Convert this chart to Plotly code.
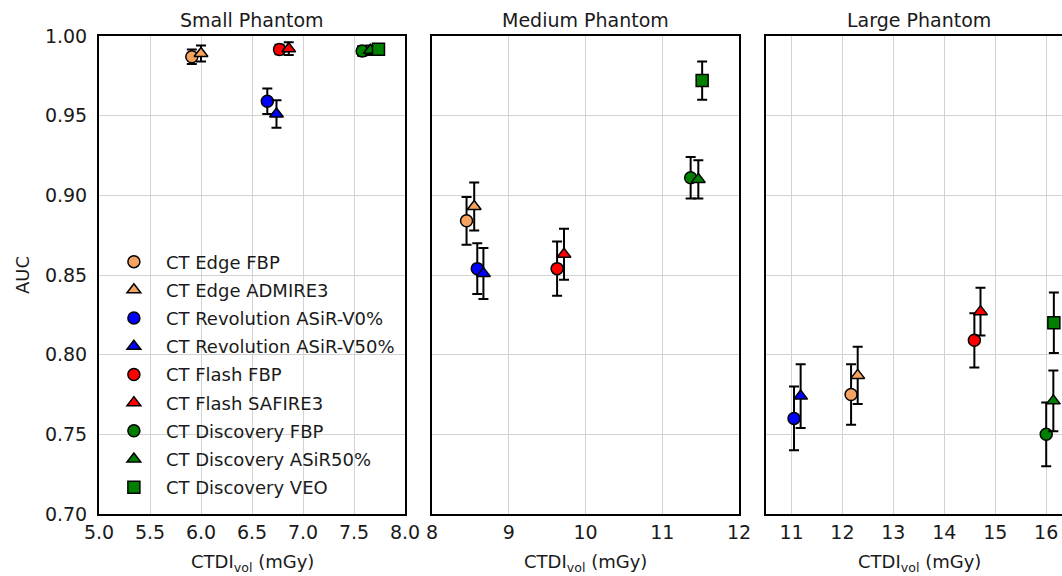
import plotly.graph_objects as go

series = ["CT Edge FBP", "CT Edge ADMIRE3", "CT Revolution ASiR-V0%", "CT Revolution ASiR-V50%",
          "CT Flash FBP", "CT Flash SAFIRE3", "CT Discovery FBP", "CT Discovery ASiR50%", "CT Discovery VEO"]
colors = ["#f4a460", "#f4a460", "#0000ff", "#0000ff", "#ff0000", "#ff0000", "#008000", "#008000", "#008000"]
symbols = ["circle", "triangle-up", "circle", "triangle-up", "circle", "triangle-up", "circle", "triangle-up", "square"]

small_x = [5.91, 6.00, 6.65, 6.74, 6.77, 6.86, 7.58, 7.66, 7.74]
small_auc = [0.987, 0.989, 0.959, 0.951, 0.9915, 0.992, 0.9906, 0.991, 0.9917]
small_err = [0.0045, 0.005, 0.008, 0.0086, 0.003, 0.004, 0.003, 0.003, 0.003]

medium_x = [8.45, 8.55, 8.59, 8.67, 9.63, 9.72, 11.37, 11.47, 11.52]
medium_auc = [0.884, 0.893, 0.854, 0.851, 0.854, 0.863, 0.911, 0.910, 0.972]
medium_err = [0.015, 0.015, 0.016, 0.016, 0.017, 0.016, 0.013, 0.012, 0.012]

large_x = [12.17, 12.30, 11.05, 11.18, 14.59, 14.71, 16.00, 16.14, 16.15]
large_auc = [0.775, 0.787, 0.760, 0.774, 0.809, 0.827, 0.750, 0.771, 0.820]
large_err = [0.019, 0.018, 0.020, 0.020, 0.017, 0.015, 0.020, 0.019, 0.019]

panel_titles = ["Small Phantom", "Medium Phantom", "Large Phantom"]
x_ranges = [[5.0, 8.0], [8.0, 12.0], [10.5, 16.31]]
x_ticks = [[5.0, 5.5, 6.0, 6.5, 7.0, 7.5, 8.0], [8, 9, 10, 11, 12], [11, 12, 13, 14, 15, 16]]
x_ticktext = [["5.0", "5.5", "6.0", "6.5", "7.0", "7.5", "8.0"], ["8", "9", "10", "11", "12"],
              ["11", "12", "13", "14", "15", "16"]]
y_ticks = [0.70, 0.75, 0.80, 0.85, 0.90, 0.95, 1.00]

FONT = "DejaVu Sans"
TXT = "#1a1a1a"

W, H = 1062, 576
ML, MR, MT, MB = 99, 0, 36, 62
PW = W - ML - MR
PH = H - MT - MB
panels_px = [(99, 405), (432, 739), (766, 1062)]
domains = [[(a - ML) / PW, (b - ML) / PW] for a, b in panels_px]

fig = go.Figure()
datasets = [(small_x, small_auc, small_err), (medium_x, medium_auc, medium_err), (large_x, large_auc, large_err)]
for p, (xs, ys, es) in enumerate(datasets):
    for i in range(len(series)):
        fig.add_trace(go.Scatter(
            x=[xs[i]], y=[ys[i]], mode="markers", name=series[i],
            legendgroup=series[i], showlegend=(p == 0),
            marker=dict(symbol=symbols[i], color=colors[i], size=12,
                        line=dict(color="black", width=1.5)),
            error_y=dict(type="data", array=[es[i]], color="black", thickness=2, width=5),
            xaxis="x" if p == 0 else f"x{p+1}", yaxis="y" if p == 0 else f"y{p+1}",
        ))

layout = dict(
    width=W, height=H, margin=dict(l=ML, r=MR, t=MT, b=MB, autoexpand=False),
    paper_bgcolor="white", plot_bgcolor="white",
    font=dict(family=FONT, size=19, color=TXT),
    showlegend=True,
    legend=dict(x=0.003, y=0.566, xanchor="left", yanchor="top", bgcolor="rgba(0,0,0,0)",
                font=dict(size=18, family=FONT, color=TXT), itemwidth=54, tracegroupgap=1.8,
                borderwidth=0),
)
for p in range(3):
    xk = "xaxis" if p == 0 else f"xaxis{p+1}"
    yk = "yaxis" if p == 0 else f"yaxis{p+1}"
    layout[xk] = dict(domain=domains[p], range=x_ranges[p], tickmode="array", tickvals=x_ticks[p],
                      ticktext=x_ticktext[p], showgrid=True, gridcolor="#d3d3d3", gridwidth=1,
                      showline=True, linecolor="black", linewidth=2, mirror=True, zeroline=False,
                      ticks="", tickfont=dict(size=19), automargin=False,
                      anchor="y" if p == 0 else f"y{p+1}")
    layout[yk] = dict(range=[0.70, 1.00], tickmode="array", tickvals=y_ticks,
                      ticktext=[f"{v:.2f}" for v in y_ticks], showgrid=True, gridcolor="#d3d3d3",
                      gridwidth=1, showline=True, linecolor="black", linewidth=2,
                      mirror=(p < 2), zeroline=False, ticks="", showticklabels=(p == 0),
                      tickfont=dict(size=19), automargin=False, ticklabelstandoff=6,
                      anchor="x" if p == 0 else f"x{p+1}")
fig.update_layout(**layout)

for p in range(3):
    cx = (domains[p][0] + domains[p][1]) / 2 if p < 2 else (766 + 153 - ML) / PW
    fig.add_annotation(text=panel_titles[p], xref="paper", yref="paper",
                       x=cx, y=1 + (MT - 20) / PH, yanchor="middle", xanchor="center", showarrow=False,
                       font=dict(size=19, family=FONT, color=TXT))
    fig.add_annotation(text="CTDI<sub>vol</sub> (mGy)", xref="paper", yref="paper",
                       x=cx, y=-(563 - (MT + PH)) / PH, yanchor="middle", xanchor="center",
                       showarrow=False, font=dict(size=18, family=FONT, color=TXT))

fig.add_annotation(text="AUC", xref="paper", yref="paper", x=(22 - ML) / PW, y=0.5,
                   xanchor="center", yanchor="middle", textangle=-90, showarrow=False,
                   font=dict(size=18, family=FONT, color=TXT))

fig.write_html("out.html", config={"displayModeBar": False},
               post_script="document.body.style.margin='0';")
